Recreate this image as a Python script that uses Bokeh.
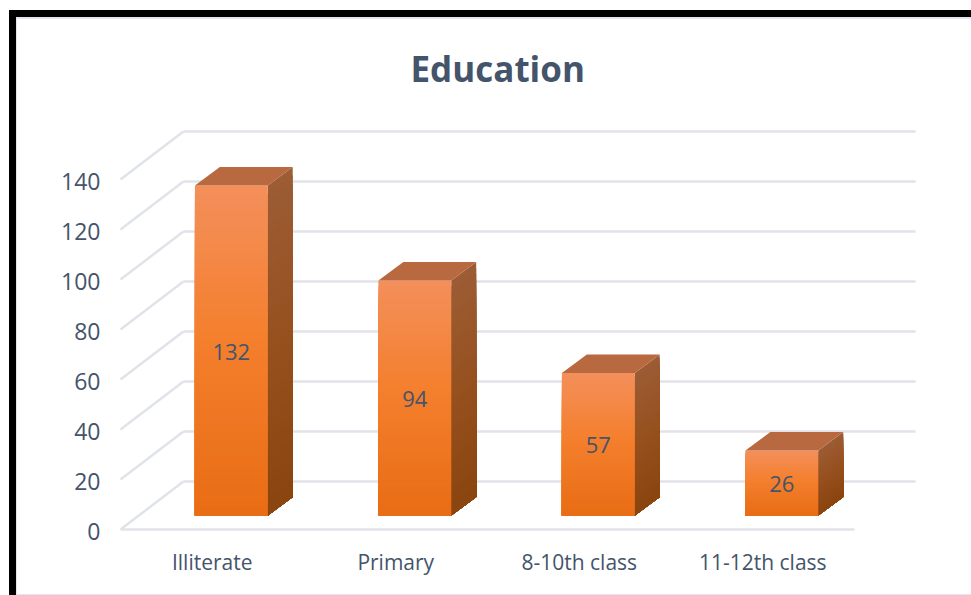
import numpy as np
from bokeh.core.properties import value
from bokeh.embed import file_html
from bokeh.models import FixedTicker, Range1d, Title
from bokeh.plotting import figure
from bokeh.resources import INLINE

categories = ["Illiterate", "Primary", "8-10th class", "11-12th class"]
counts = [132, 94, 57, 26]
tick_values = [0, 20, 40, 60, 80, 100, 120, 140]
chart_title = "Education"

# perspective offsets, in data units of each axis
WALL_DX, WALL_DY = 0.343, 19.2
BAR_DX, BAR_DY = 0.104, 5.6
DEPTH_DX, DEPTH_DY = 0.136, 7.4
BAR_W = 0.397
TEXT = "#44546A"
GRID = "#E0E3E9"
FONT = "Open Sans"
STEPS = 40


def ramp(stops, t):
    xs = [s[0] for s in stops]
    return "#%02x%02x%02x" % tuple(int(round(np.interp(t, xs, [s[1][k] for s in stops]))) for k in range(3))


FRONT = [(0, (244, 143, 90)), (0.45, (244, 127, 45)), (1, (232, 108, 20))]
SIDE = [(0, (156, 92, 52)), (0.5, (150, 80, 30)), (1, (138, 68, 14))]
TOP = "#B8693F"

frame_css = {
    "margin-left": "16px", "margin-top": "17px",
    "border-left": "1px solid #E3E6EC", "border-top": "2px solid #E3E6EC",
    "border-bottom": "1px solid #E3E6EC",
    "box-shadow": "-7px -7px 0 0 #000, 0 -7px 0 0 #000, -7px 7px 0 0 #000",
}

p = figure(width=955, height=578, output_backend="svg", toolbar_location=None,
           x_range=Range1d(-0.0872, 4.594), y_range=Range1d(-2, 167.6),
           extra_y_ranges={"labels": Range1d(-1.2, 168.4)},
           min_border_left=87, min_border_right=9, min_border_top=91, min_border_bottom=63,
           outline_line_color=None, background_fill_color="white", border_fill_color="white",
           styles=frame_css)
p.grid.visible = False

# axes
p.yaxis.y_range_name = "labels"
p.yaxis.ticker = FixedTicker(ticks=tick_values)
p.yaxis.axis_line_color = None
p.yaxis.major_tick_line_color = None
p.yaxis.minor_tick_line_color = None
p.yaxis.major_label_standoff = -2
p.yaxis.major_label_text_font = FONT
p.yaxis.major_label_text_font_size = "23px"
p.yaxis.major_label_text_color = TEXT

centers = [i + 0.5 for i in range(len(categories))]
p.xaxis.ticker = FixedTicker(ticks=centers)
p.xaxis.major_label_overrides = {c: n for c, n in zip(centers, categories)}
p.xaxis.axis_line_color = None
p.xaxis.major_tick_line_color = None
p.xaxis.minor_tick_line_color = None
p.xaxis.major_label_standoff = 7
p.xaxis.major_label_text_font = FONT
p.xaxis.major_label_text_font_size = "21px"
p.xaxis.major_label_text_color = TEXT

# wall and floor lines
n = len(categories)
p.segment(x0=[0], x1=[n], y0=[0], y1=[0], line_color=GRID, line_width=2.5)
p.segment(x0=[WALL_DX] * len(tick_values), x1=[WALL_DX + n - 0.01] * len(tick_values),
          y0=[v + WALL_DY for v in tick_values], y1=[v + WALL_DY for v in tick_values],
          line_color=GRID, line_width=2.5)
p.segment(x0=[0] * len(tick_values), x1=[WALL_DX] * len(tick_values),
          y0=tick_values, y1=[v + WALL_DY for v in tick_values],
          line_color=GRID, line_width=2.5)

# bars
for c, v in zip(centers, counts):
    x0 = c + BAR_DX - BAR_W / 2
    x1 = c + BAR_DX + BAR_W / 2
    base = BAR_DY
    top = v + BAR_DY
    for k in range(STEPS):
        t = k / STEPS
        y = top - t * v
        p.patch([x1, x1 + DEPTH_DX, x1 + DEPTH_DX, x1],
                [y, y + DEPTH_DY, base + DEPTH_DY, base],
                fill_color=ramp(SIDE, t), line_color=None)
        p.quad(left=[x0], right=[x1], top=[y], bottom=[base],
               fill_color=ramp(FRONT, t), line_color=None)
    p.patch([x0, x1, x1 + DEPTH_DX, x0 + DEPTH_DX],
            [top, top, top + DEPTH_DY, top + DEPTH_DY],
            fill_color=TOP, line_color=None)

p.text(x=[c + BAR_DX for c in centers], y=[v / 2 + BAR_DY - 0.4 for v in counts],
       text=[str(v) for v in counts], text_align="center", text_baseline="middle",
       text_font=value(FONT), text_font_size="22px", text_color=TEXT)

# title
p.title = Title(text=chart_title, align="left", offset=306, standoff=38,
                text_font=FONT, text_font_size="35px", text_font_style="bold", text_color=TEXT)

open("out.html", "w").write(file_html(p, INLINE))
